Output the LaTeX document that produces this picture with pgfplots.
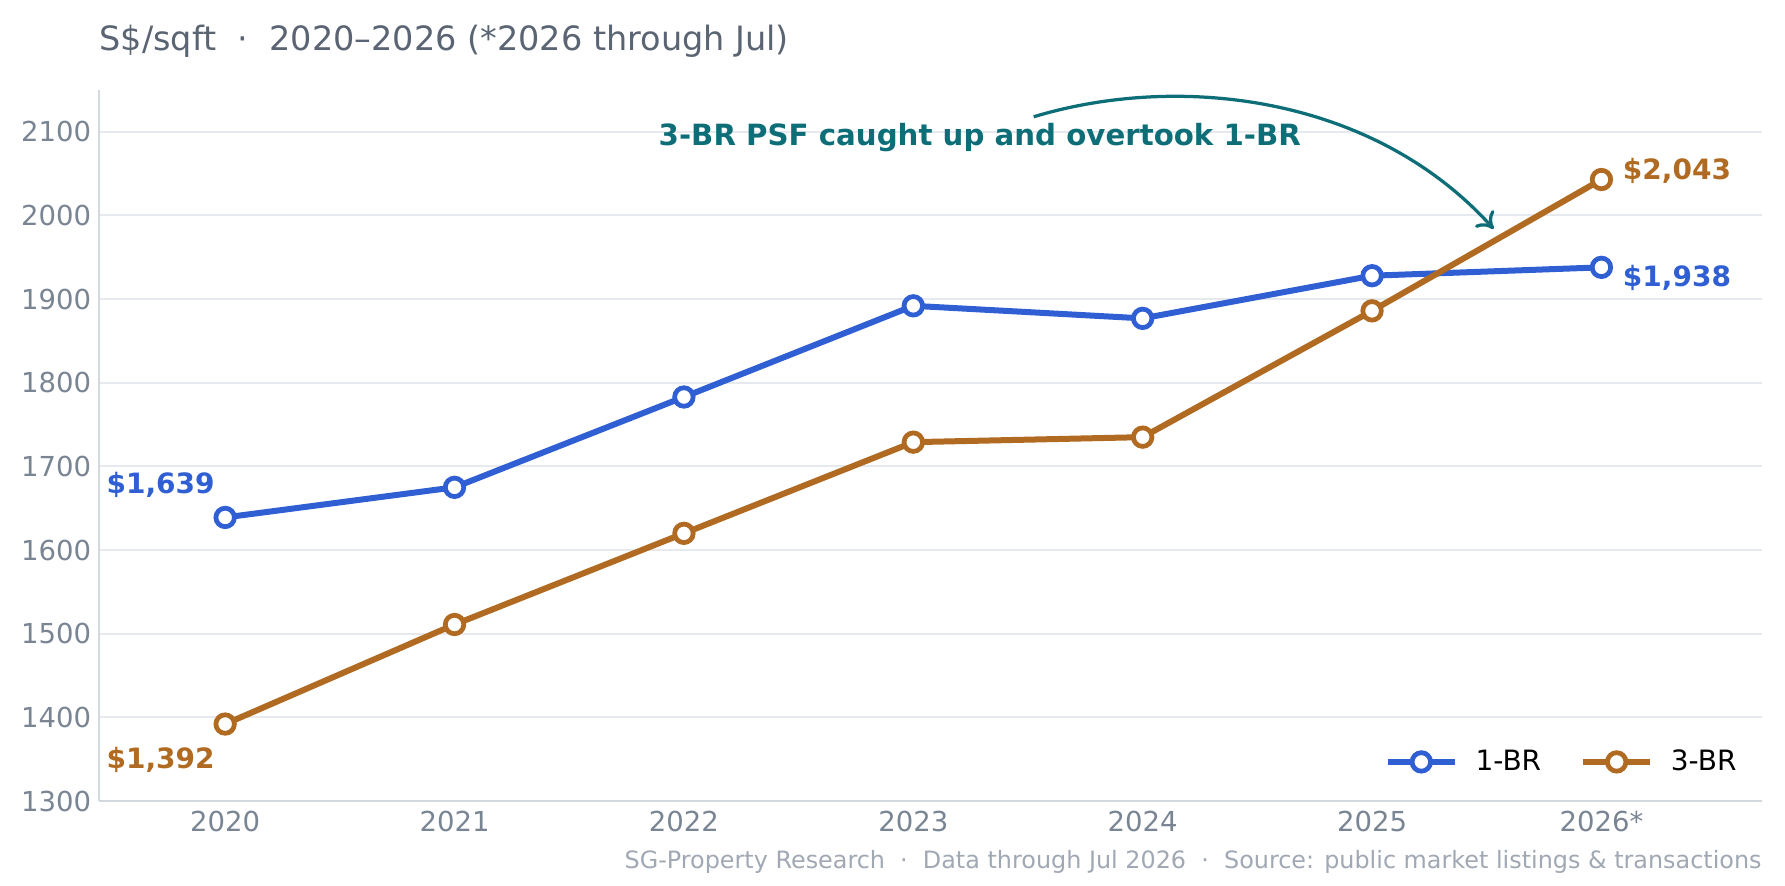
\documentclass[border=0pt]{standalone}
\usepackage{pgfplots}
\pgfplotsset{compat=1.18}
\usepackage{fontspec}
\setmainfont{DejaVu Sans}
\usetikzlibrary{arrows.meta}

\definecolor{oneBR}{HTML}{2F5FD3}
\definecolor{threeBR}{HTML}{B06A21}
\definecolor{annot}{HTML}{0E6E78}
\definecolor{gridc}{HTML}{E6E9ED}
\definecolor{axisc}{HTML}{D3D8DE}
\definecolor{tickc}{HTML}{7A8594}
\definecolor{titlec}{HTML}{5A6472}
\definecolor{footc}{HTML}{A0A8B4}

\pgfplotstableread{
x  one   three
0  1639  1392
1  1675  1511
2  1783  1620
3  1892  1729
4  1877  1735
5  1928  1886
6  1938  2043
}\psfdata

\begin{document}
\begin{tikzpicture}
\begin{axis}[
  scale only axis,
  width=665.2pt, height=284.4pt,
  xmin=-0.55, xmax=6.7,
  ymin=1300, ymax=2150,
  xtick={0,...,6},
  xticklabels={2020,2021,2022,2023,2024,2025,2026*},
  ytick={1300,1400,...,2100},
  ymajorgrids,
  grid style={gridc, line width=0.8pt},
  axis x line*=bottom, axis y line*=left,
  axis line style={axisc, line width=0.9pt, -},
  major tick length=0pt,
  tick label style={font=\fontsize{11}{13}\selectfont, text=tickc},
  /pgf/number format/assume math mode=true,
  /pgf/number format/1000 sep={},
  yticklabel style={xshift=0.4pt},
  xticklabel style={yshift=-0.6pt},
  clip=false,
  legend columns=2,
  legend style={draw=none, fill=none, at={(1.0,0.055)}, anchor=east,
    font=\fontsize{11.2}{13}\selectfont,
    /tikz/every odd column/.append style={column sep=0pt},
    /tikz/every even column/.append style={column sep=8.5pt},
    nodes={inner xsep=7pt}},
  legend cell align=left,
  legend image code/.code={
    \draw[#1, mark=none] (0pt,0pt) -- (27pt,0pt);
    \draw[#1, only marks] plot coordinates {(13.5pt,0pt)};
  },
]
\addplot[oneBR, line width=2.4pt, mark=*, mark size=3.7pt,
  mark options={fill=white, draw=oneBR, line width=1.9pt}]
  table[x=x, y=one] {\psfdata};
\addlegendentry{1-BR}
\addplot[threeBR, line width=2.4pt, mark=*, mark size=3.7pt,
  mark options={fill=white, draw=threeBR, line width=1.9pt}]
  table[x=x, y=three] {\psfdata};
\addlegendentry{3-BR}

% end-point value labels
\node[anchor=south east, inner sep=0pt, text=oneBR, font=\bfseries\fontsize{11.2}{13}\selectfont]
  at ([xshift=-4pt, yshift=7.8pt]axis cs:0,1639) {\$1,639};
\node[anchor=north east, inner sep=0pt, text=threeBR, font=\bfseries\fontsize{11.2}{13}\selectfont]
  at ([xshift=-4pt, yshift=-9pt]axis cs:0,1392) {\$1,392};
\node[anchor=west, inner sep=0pt, text=threeBR, font=\bfseries\fontsize{11.2}{13}\selectfont]
  at ([xshift=8.4pt, yshift=3.4pt]axis cs:6,2043) {\$2,043};
\node[anchor=west, inner sep=0pt, text=oneBR, font=\bfseries\fontsize{11.2}{13}\selectfont]
  at ([xshift=8.4pt, yshift=-4.4pt]axis cs:6,1938) {\$1,938};

% crossover annotation
\node[text=annot, font=\bfseries\fontsize{11.7}{13}\selectfont, inner sep=0pt]
  at (axis cs:3.29,2093) {3-BR PSF caught up and overtook 1-BR};
\draw[annot, line width=1.3pt, -{To[length=6pt, width=10pt]}]
  (axis cs:3.525,2118) .. controls (axis cs:4.15,2170) and (axis cs:5.0,2145) .. (axis cs:5.53,1984);
\end{axis}

\node[anchor=west, text=titlec, font=\fontsize{13.4}{16}\selectfont, inner sep=0pt]
  at (0pt,304pt) {S\$/sqft \ ·\ \ 2020–2026 (*2026 through Jul)};
\node[anchor=east, text=footc, font=\fontsize{9.55}{11}\selectfont, inner sep=0pt]
  at (665.2pt,-24.2pt) {SG-Property Research \ ·\ \ Data through Jul 2026 \ ·\ \ Source: public market listings \& transactions};

\pgfresetboundingbox
\path[use as bounding box] (-39.6pt,-33.6pt) rectangle (674.4pt,320.4pt);
\end{tikzpicture}
\end{document}
